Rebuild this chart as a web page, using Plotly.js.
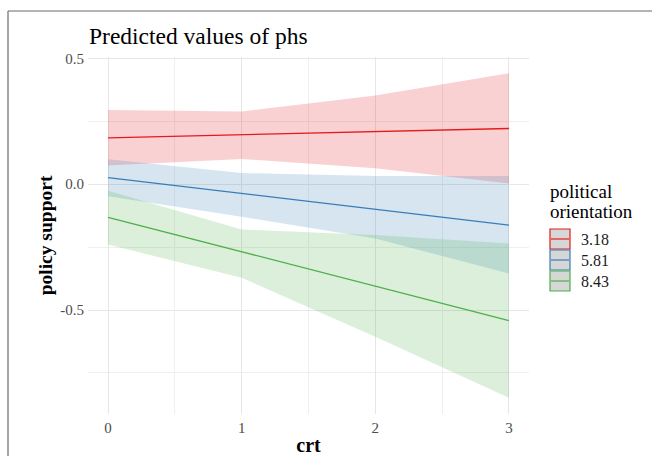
<!DOCTYPE html>
<html>
<head>
<meta charset="utf-8">
<script src="https://cdn.plot.ly/plotly-3.0.1.min.js"></script>
<style>
html, body { margin:0; padding:0; background:#fff; }
#chart { width:652px; height:456px; }
</style>
</head>
<body>
<div id="chart"></div>
<script>
// ---- data ----
const crt = [0, 1, 2, 3];
const groups = ['3.18', '5.81', '8.43'];
const fit318 = [0.184, 0.196, 0.209, 0.221];
const upper318 = [0.294, 0.289, 0.352, 0.440];
const lower318 = [0.074, 0.100, 0.063, 0.003];
const fit581 = [0.026, -0.037, -0.100, -0.163];
const upper581 = [0.099, 0.044, 0.032, 0.032];
const lower581 = [-0.048, -0.130, -0.216, -0.355];
const fit843 = [-0.132, -0.269, -0.405, -0.542];
const upper843 = [-0.026, -0.180, -0.202, -0.236];
const lower843 = [-0.240, -0.372, -0.606, -0.848];
const xTickVals = [0, 1, 2, 3];
const xTickText = ['0', '1', '2', '3'];
const yTickVals = [-0.5, 0, 0.5];
const yTickText = ['-0.5', '0.0', '0.5'];
const legendTitleLines = ['political', 'orientation'];

// ---- styling ----
const lineColors = ['#E41A1C', '#377EB8', '#4DAF4A'];
const fillColors = ['rgba(228,26,28,0.2)', 'rgba(55,126,184,0.2)', 'rgba(77,175,74,0.2)'];
const serif = 'Liberation Serif, Times New Roman, serif';
const fits = [fit318, fit581, fit843];
const uppers = [upper318, upper581, upper843];
const lowers = [lower318, lower581, lower843];

const W = 652, H = 456;
const M = {l: 88, r: 123, t: 57, b: 42};
const PW = W - M.l - M.r, PH = H - M.t - M.b;
const px = v => (v - M.l) / PW;
const py = v => (M.t + PH - v) / PH;

const traces = [];
groups.forEach((g, i) => {
  traces.push({x: crt, y: uppers[i], mode: 'lines', line: {width: 0, color: lineColors[i]},
    showlegend: false, hoverinfo: 'skip'});
  traces.push({x: crt, y: lowers[i], mode: 'lines', line: {width: 0, color: lineColors[i]},
    fill: 'tonexty', fillcolor: fillColors[i], showlegend: false, hoverinfo: 'skip'});
});
groups.forEach((g, i) => {
  traces.push({x: crt, y: fits[i], mode: 'lines', name: g,
    line: {width: 1.3, color: lineColors[i]}, showlegend: false});
});

const shapes = [];
const annotations = [];
// outer frame (top and left edges)
shapes.push({type: 'line', xref: 'paper', yref: 'paper', x0: px(8), x1: px(660), y0: py(11), y1: py(11),
  line: {color: '#6B6B6B', width: 1.2}});
shapes.push({type: 'line', xref: 'paper', yref: 'paper', x0: px(8), x1: px(8), y0: py(11), y1: py(470),
  line: {color: '#6B6B6B', width: 1.2}});
// manual legend
legendTitleLines.forEach((t, k) => {
  annotations.push({xref: 'paper', yref: 'paper', x: px(548), y: py(191 + 20 * k), xanchor: 'left', yanchor: 'middle',
    text: t, showarrow: false, align: 'left',
    font: {family: serif, size: 19, color: '#000'}});
});
groups.forEach((g, i) => {
  const top = 229 + 21 * i;
  shapes.push({type: 'rect', xref: 'paper', yref: 'paper', x0: px(550), x1: px(570), y0: py(top), y1: py(top + 20),
    fillcolor: '#D6D6D6', line: {color: lineColors[i], width: 1.2}});
  shapes.push({type: 'line', xref: 'paper', yref: 'paper', x0: px(551), x1: px(569), y0: py(top + 10), y1: py(top + 10),
    line: {color: lineColors[i], width: 1.2}});
  annotations.push({xref: 'paper', yref: 'paper', x: px(579), y: py(top + 10), xanchor: 'left', yanchor: 'middle',
    text: g, showarrow: false, font: {family: serif, size: 16, color: '#1A1A1A'}});
});

const layout = {
  width: W, height: H,
  margin: M,
  paper_bgcolor: '#fff', plot_bgcolor: '#fff',
  showlegend: false,
  title: {text: 'Predicted values of phs', xref: 'container', yref: 'container',
    x: 89 / W, xanchor: 'left', y: 1 - 36 / H, yanchor: 'middle',
    font: {family: serif, size: 23.5, color: '#000'}},
  xaxis: {range: [-0.15, 3.15], tickmode: 'array', tickvals: xTickVals, ticktext: xTickText,
    showgrid: true, gridcolor: '#E6E6E6', gridwidth: 1, zeroline: false, showline: false, ticks: '',
    ticklabelstandoff: 3,
    minor: {tickmode: 'linear', tick0: 0.5, dtick: 1, showgrid: true, gridcolor: '#EFEFEF', gridwidth: 1},
    tickfont: {family: serif, size: 15, color: '#4D4D4D'},
    title: {text: '<b>crt</b>', font: {family: serif, size: 20, color: '#000'}, standoff: 5}},
  yaxis: {range: [-0.913, 0.505], tickmode: 'array', tickvals: yTickVals, ticktext: yTickText,
    showgrid: true, gridcolor: '#E6E6E6', gridwidth: 1, zeroline: false, showline: false, ticks: '',
    ticklabelstandoff: 3,
    minor: {tickmode: 'linear', tick0: 0.25, dtick: 0.5, showgrid: true, gridcolor: '#EFEFEF', gridwidth: 1},
    tickfont: {family: serif, size: 15, color: '#4D4D4D'},
    title: {text: '<b>policy support</b>', font: {family: serif, size: 19.5, color: '#000'}, standoff: 2}},
  shapes: shapes,
  annotations: annotations
};

Plotly.newPlot('chart', traces, layout, {displayModeBar: false, staticPlot: true});
</script>
</body>
</html>
